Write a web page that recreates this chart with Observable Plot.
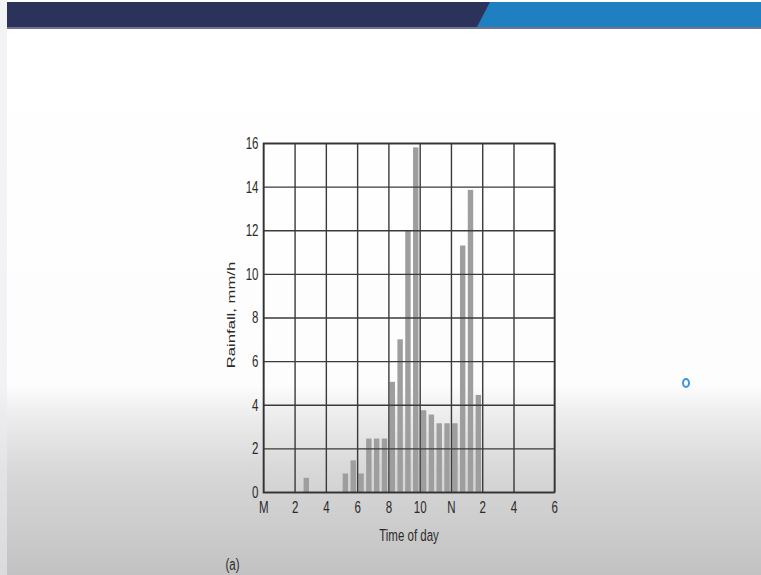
<!DOCTYPE html>
<html><head><meta charset="utf-8">
<script src="https://cdn.jsdelivr.net/npm/d3@7"></script>
<script src="https://cdn.jsdelivr.net/npm/@observablehq/plot@0.6"></script>
<style>
html,body{margin:0;padding:0;}
body{width:761px;height:575px;overflow:hidden;position:relative;
  background:linear-gradient(to bottom,#ffffff 0px,#fdfdfd 385px,#efefef 410px,#d8d8d8 470px,#c2c2c2 575px);}
#leftstrip{position:absolute;left:0;top:0;width:7px;height:575px;background:rgba(235,235,238,0.6);}
#banner{position:absolute;left:7px;top:2px;width:754px;height:25px;background:#2c335a;border-bottom:2px solid #6f7590;}
#bannerBlue{position:absolute;left:0;top:2px;width:761px;height:25px;background:#1e80c0;
  clip-path:polygon(490px 0,761px 0,761px 25px,477px 25px);}
#cursor{position:absolute;left:682px;top:378px;width:4px;height:6px;border:2px solid #3d95dc;border-radius:50%;}
#chart{position:absolute;left:0;top:0;}
</style>
</head><body>
<div id="leftstrip"></div>
<div id="banner"></div>
<div id="bannerBlue"></div>
<div id="chart"></div>
<div id="cursor"></div>
<script>
// Start of each 30-minute interval (hours after midnight)
const intervalStart = [2.5, 5.0, 5.5, 6.0, 6.5, 7.0, 7.5, 8.0, 8.5, 9.0, 9.5, 10.0, 10.5, 11.0, 11.5, 12.0, 12.5, 13.0, 13.5];
// Rainfall intensity, mm/h
const rainfall = [0.65, 0.85, 1.45, 0.85, 2.45, 2.45, 2.45, 5.05, 7.0, 12.0, 15.8, 3.75, 3.55, 3.15, 3.15, 3.15, 11.3, 13.85, 4.45];
const xTickValues = [0, 2, 4, 6, 8, 10, 12, 14, 16, 18];
const xTickLabels = ["M", "2", "4", "6", "8", "10", "N", "2", "4", "6"];
const yTickValues = [0, 2, 4, 6, 8, 10, 12, 14, 16];

const data = intervalStart.map((s, i) => ({start: s, end: s + 0.5, value: rainfall[i]}));
const font = "'Liberation Sans',Arial,Helvetica,sans-serif";
const ink = "#2a2a2a";

const chart = Plot.plot({
  width: 761,
  height: 575,
  marginLeft: 263,
  marginRight: 207,
  marginTop: 143,
  marginBottom: 83,
  style: {background: "transparent", fontFamily: font, fontSize: "11.5px", color: ink},
  x: {type: "linear", domain: [0, 16, 18], range: [263.3, 513.5, 554.3]},
  y: {domain: [0, 16]},
  marks: [
    Plot.rectY(data, {x1: "start", x2: "end", y: "value", fill: "#9e9e9e", insetLeft: 1.2, insetRight: 1.2}),
    Plot.gridX(xTickValues, {stroke: "#3a3a3a", strokeOpacity: 1, strokeWidth: 1.4}),
    Plot.gridY(yTickValues, {stroke: "#3a3a3a", strokeOpacity: 1, strokeWidth: 1.4}),
    Plot.frame({stroke: "#333", strokeWidth: 1.6}),
    Plot.axisX({ticks: xTickValues, tickFormat: (d, i) => xTickLabels[i], tickSize: 0, tickPadding: 11,
      label: null, fontSize: 11.5, fill: ink}),
    Plot.axisY({ticks: yTickValues, tickSize: 0, tickPadding: 5, label: null, fontSize: 11.5, fill: ink}),
    Plot.text(["Time of day"], {frameAnchor: "bottom", dy: 47, fontSize: 11.5, fill: ink}),
    Plot.text(["Rainfall, mm/h"], {frameAnchor: "left", textAnchor: "middle", dx: -32, dy: -3, rotate: -90, fontSize: 11.5, fill: ink}),
    Plot.text(["(a)"], {frameAnchor: "bottom-left", dx: -38, dy: 76, fontSize: 11.5, fill: ink})
  ]
});
document.getElementById("chart").appendChild(chart);

// The reference picture is stretched vertically; stretch every text the same way about its centre,
// along the screen vertical (which is the parent's x axis when the parent is rotated).
const SVGNS = "http://www.w3.org/2000/svg";
const K = 1.45;
chart.querySelectorAll("text").forEach(t => {
  const b = t.getBBox();
  let p = new DOMPoint(b.x + b.width / 2, b.y + b.height / 2);
  const list = t.transform.baseVal;
  let own = null;
  if (list.numberOfItems) {
    own = list.consolidate().matrix;
    p = p.matrixTransform(own);
  }
  const pm = t.parentNode.getCTM();
  // Combined rotation of parent (and text's own transform) relative to screen
  const full = own ? pm.multiply(own) : pm;
  const parentRotated = Math.abs(pm.b) > Math.abs(pm.a);
  const g = document.createElementNS(SVGNS, "g");
  if (parentRotated) {
    g.setAttribute("transform", `translate(${p.x},0) scale(${K},1) translate(${-p.x},0)`);
  } else {
    g.setAttribute("transform", `translate(0,${p.y}) scale(1,${K}) translate(0,${-p.y})`);
  }
  t.parentNode.insertBefore(g, t);
  g.appendChild(t);
});
</script>
</body></html>
